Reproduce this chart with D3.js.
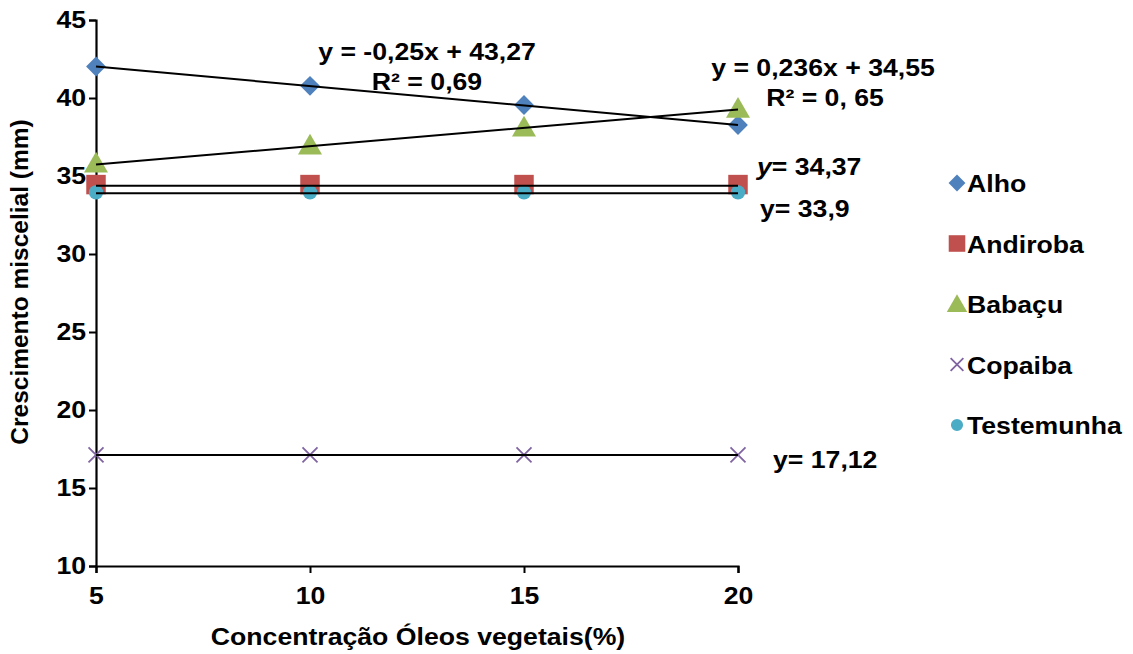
<!DOCTYPE html>
<html>
<head>
<meta charset="utf-8">
<script src="https://cdn.jsdelivr.net/npm/d3@7"></script>
<style>
body { margin: 0; background: #fff; }
text { font-family: "Liberation Sans", Arial, sans-serif; font-weight: bold; }
</style>
</head>
<body>
<div id="chart"></div>
<script>
// data
var concentracoes = [5, 10, 15, 20];
var alho = [42.02, 40.78, 39.55, 38.27];
var andiroba = [34.45, 34.45, 34.45, 34.45];
var babacu = [35.8, 36.95, 38.1, 39.3];
var copaiba = [17.12, 17.12, 17.12, 17.12];
var testemunha = [33.95, 33.95, 33.95, 33.95];
var nomes = ["Alho", "Andiroba", "Babaçu", "Copaiba", "Testemunha"];
var cores = ["#4F81BD", "#C0504D", "#9BBB59", "#8064A2", "#4BACC6"];
var yTicks = [10, 15, 20, 25, 30, 35, 40, 45];
// trend lines: [slope, intercept]
var tendencias = [[-0.25, 43.27], [0, 34.37], [0.236, 34.55], [0, 17.12], [0, 33.9]];

var series = [alho, andiroba, babacu, copaiba, testemunha];

var margin = {top: 20, right: 395, bottom: 88, left: 96},
width = 1133 - margin.left - margin.right,
height = 654 - margin.top - margin.bottom;
var stretch = "scale(1.11,1)";

var x = d3.scaleLinear().domain([5, 20]).range([0, width]);
var y = d3.scaleLinear().domain([10, 45]).range([height, 0]);

var svg = d3.select("#chart").append("svg")
.attr("width", 1133)
.attr("height", 654)
.append("g")
.attr("transform", "translate(" + margin.left + "," + margin.top + ")");

// axes
var xAxis = svg.append("g")
.attr("transform", "translate(0," + height + ")")
.call(d3.axisBottom(x).tickValues(concentracoes).tickSize(7).tickPadding(14));
var yAxis = svg.append("g")
.call(d3.axisLeft(y).tickValues(yTicks).tickSize(7).tickPadding(2));
[xAxis, yAxis].forEach(function(a) {
a.select(".domain").attr("stroke", "#000").attr("stroke-width", 2.2);
a.selectAll(".tick line").attr("stroke", "#000").attr("stroke-width", 2);
a.selectAll("text").style("font-size", "24px").attr("fill", "#000").attr("transform", stretch);
});

// markers
var symbols = [d3.symbolSquare, d3.symbolSquare, d3.symbolTriangle, d3.symbolCross, d3.symbolCircle];
var sizes = [196, 380, 250, 0, 160];

function drawMarker(g, i, cx, cy, scale) {
if (i === 3) {
var r = 7.5 * scale;
g.append("path")
.attr("d", "M" + (cx - r) + "," + (cy - r) + "L" + (cx + r) + "," + (cy + r) +
"M" + (cx - r) + "," + (cy + r) + "L" + (cx + r) + "," + (cy - r))
.attr("stroke", cores[i]).attr("stroke-width", 1.8).attr("fill", "none");
} else {
g.append("path")
.attr("d", d3.symbol().type(symbols[i]).size(sizes[i] * scale * scale)())
.attr("transform", "translate(" + cx + "," + (cy + (i === 2 ? 2 : 0)) + ")" + (i === 0 ? " rotate(45)" : ""))
.attr("fill", cores[i]);
}
}

series.forEach(function(vals, i) {
var g = svg.append("g");
vals.forEach(function(v, j) {
drawMarker(g, i, x(concentracoes[j]), y(v), 1);
});
});

// trend lines on top of markers
tendencias.forEach(function(t) {
svg.append("line")
.attr("x1", x(5)).attr("y1", y(t[0] * 5 + t[1]))
.attr("x2", x(20)).attr("y2", y(t[0] * 20 + t[1]))
.attr("stroke", "#000").attr("stroke-width", 2);
});

// equations
function label(tx, ty, txt, anchor) {
return svg.append("text")
.attr("transform", "translate(" + tx + "," + ty + ") " + stretch)
.attr("text-anchor", anchor || "middle")
.style("font-size", "24px")
.text(txt);
}
label(331, 40, "y = -0,25x + 43,27");
label(331, 70, "R² = 0,69");
label(727, 56, "y = 0,236x + 34,55");
label(729, 86, "R² = 0, 65");
var t1 = label(661, 155, "", "start");
t1.append("tspan").style("font-style", "italic").text("y");
t1.append("tspan").text("= 34,37");
label(664, 197, "y= 33,9", "start");
label(677, 448, "y= 17,12", "start");

// axis titles
label(width / 2 + 1, height + 79, "Concentração Óleos vegetais(%)");
svg.append("text")
.attr("transform", "rotate(-90)")
.attr("x", -262).attr("y", -68)
.attr("text-anchor", "middle")
.style("font-size", "24.5px")
.text("Crescimento miscelial (mm)");

// legend
var legend = svg.append("g").attr("transform", "translate(" + (957 - margin.left) + ",0)");
nomes.forEach(function(n, i) {
var ly = 163 + i * 60.5;
drawMarker(legend, i, 0, ly, 0.85);
legend.append("text")
.attr("transform", "translate(10," + (ly + 9) + ") " + stretch)
.style("font-size", "24px")
.text(n);
});
</script>
</body>
</html>
